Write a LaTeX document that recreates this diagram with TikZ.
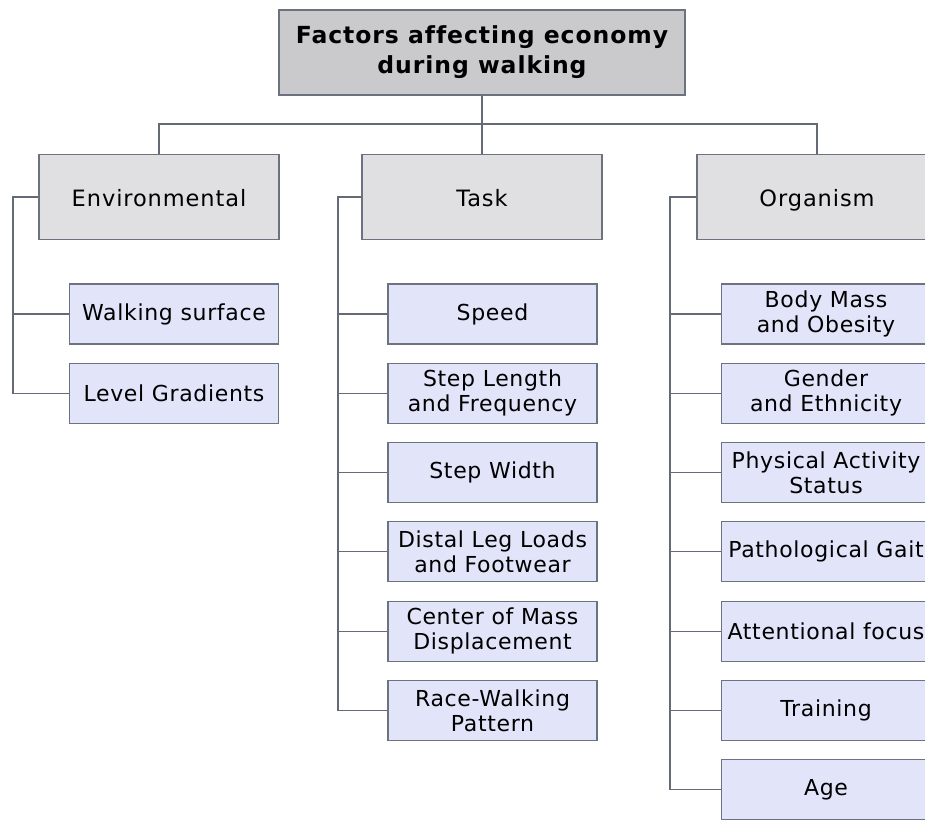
\documentclass[tikz,border=0pt]{standalone}
\usepackage{fontspec}
\setmainfont{DejaVu Sans}[Ligatures=NoCommon]
\definecolor{rootgray}{RGB}{202,202,204}
\definecolor{groupgray}{RGB}{224,224,226}
\definecolor{itemblue}{RGB}{226,228,249}
\definecolor{boxline}{RGB}{108,114,128}
\definecolor{linkgray}{RGB}{100,106,118}
\tikzset{
  rootbox/.style={draw=boxline, fill=rootgray, line width=1.1pt, minimum width=406pt, minimum height=85pt,
    align=center, inner sep=0pt, font=\bfseries\fontsize{23.5}{30}\selectfont\addfontfeatures{LetterSpace=4}},
  groupbox/.style={draw=boxline, fill=groupgray, line width=1.1pt, minimum width=240pt, minimum height=85pt,
    inner sep=0pt, text height=18pt, text depth=0pt,
    font=\fontsize{22.5}{26}\selectfont\addfontfeatures{LetterSpace=4}},
  itembox/.style={draw=boxline, fill=itemblue, line width=1.1pt, minimum width=209pt, minimum height=60pt,
    align=center, inner sep=0pt, font=\fontsize{22}{25}\selectfont\addfontfeatures{LetterSpace=3}},
  link/.style={draw=linkgray, line width=1.1pt}
}
\begin{document}
\begin{tikzpicture}[x=1pt, y=-1pt]
  \clip (0,0) rectangle (925,820);
  \fill[white] (0,0) rectangle (925,820);

  % top level
  \node [rootbox] (root) at (482,52.5) {Factors affecting economy\\during walking};
  \coordinate (bus) at (482,124);

  % three groups
  \node [groupbox] (env) at (159,197) {Environmental};
  \node [groupbox] (task) at (482,197) {Task};
  \node [groupbox] (org) at (817,197) {Organism};
  \draw [link] (root) -- (bus) -- (task);
  \draw [link] (bus) -| (env);
  \draw [link] (bus) -| (org);

  % environmental
  \coordinate (envtrunk) at (13,197);
  \node [itembox] (walk) at (174,314) {Walking surface};
  \node [itembox] (grad) at (174,393.3) {Level Gradients};

  % task
  \coordinate (tasktrunk) at (338,197);
  \node [itembox] (speed) at (492.5,314) {Speed};
  \node [itembox] (steplen) at (492.5,393.3) {Step Length\\and Frequency};
  \node [itembox] (stepwid) at (492.5,472.6) {Step Width};
  \node [itembox] (legload) at (492.5,551.9) {Distal Leg Loads\\and Footwear};
  \node [itembox] (commass) at (492.5,631.2) {Center of Mass\\Displacement};
  \node [itembox] (racewalk) at (492.5,710.5) {Race-Walking\\Pattern};

  % organism
  \coordinate (orgtrunk) at (670,197);
  \node [itembox] (bodymass) at (826,314) {Body Mass\\and Obesity};
  \node [itembox] (gender) at (826,393.3) {Gender\\and Ethnicity};
  \node [itembox] (activity) at (826,472.6) {Physical Activity\\Status};
  \node [itembox] (gait) at (826,551.9) {Pathological Gait};
  \node [itembox] (focus) at (826,631.2) {Attentional focus};
  \node [itembox] (training) at (826,710.5) {Training};
  \node [itembox] (age) at (826,789.8) {Age};

  % branches
  \draw [link] (env.west) -- (envtrunk) |- (grad.west);
  \draw [link] (envtrunk) |- (walk.west);
  \draw [link] (task.west) -- (tasktrunk) |- (racewalk.west);
  \foreach \n in {speed,steplen,stepwid,legload,commass}
    \draw [link] (tasktrunk) |- (\n.west);
  \draw [link] (org.west) -- (orgtrunk) |- (age.west);
  \foreach \n in {bodymass,gender,activity,gait,focus,training}
    \draw [link] (orgtrunk) |- (\n.west);
\end{tikzpicture}
\end{document}
